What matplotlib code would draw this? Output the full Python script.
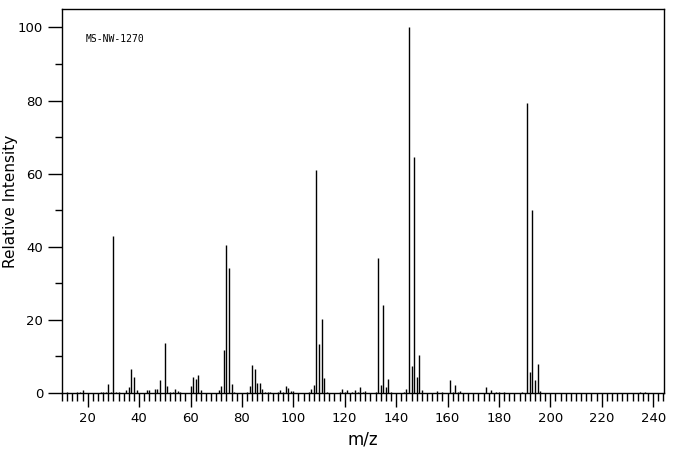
import numpy as np
import matplotlib
matplotlib.use("Agg")
import matplotlib.pyplot as plt
from matplotlib.ticker import MultipleLocator

# peak list (m/z, relative intensity)
mz = [12, 16, 17, 18, 25, 26, 27, 28, 29, 30, 31, 32, 35, 36, 37, 38, 39, 43, 44,
      46, 47, 48, 50, 51, 52, 53, 54, 55, 56, 60, 61, 62, 63, 64, 71, 72, 73, 74,
      75, 76, 77, 82, 83, 84, 85, 86, 87, 88, 89, 90, 91, 94, 95, 96, 97, 98, 99,
      100, 106, 107, 108, 109, 110, 111, 112, 113, 118, 119, 120, 121, 123, 124,
      125, 126, 127, 128, 132, 133, 134, 135, 136, 137, 138, 143, 144, 145, 146,
      147, 148, 149, 150, 156, 158, 161, 162, 163, 164, 165, 175, 177, 179, 180,
      182, 189, 191, 192, 193, 194, 195, 196, 235, 237]
intensity = [0.4, 0.4, 0.4, 0.9, 0.4, 0.4, 0.4, 2.5, 0.4, 43.0, 0.4, 0.4, 0.7, 1.6,
             6.6, 4.3, 0.7, 0.7, 0.7, 1.0, 1.1, 3.5, 13.8, 2.0, 0.4, 0.4, 1.0, 0.6,
             0.4, 2.0, 4.3, 3.7, 4.8, 0.7, 0.7, 1.8, 11.8, 40.5, 34.2, 2.5, 0.4, 0.4,
             1.8, 7.7, 6.6, 2.8, 2.6, 1.0, 0.4, 0.4, 0.4, 0.4, 0.7, 0.4, 2.0, 1.3,
             0.6, 0.6, 0.4, 1.2, 2.3, 61.0, 13.5, 20.3, 4.2, 0.4, 0.4, 1.2, 0.4, 0.9,
             0.4, 0.9, 0.4, 1.5, 0.4, 0.6, 0.4, 37.0, 2.3, 24.0, 1.5, 3.9, 0.4, 0.4,
             1.2, 100.0, 7.5, 64.6, 4.5, 10.5, 0.9, 0.6, 0.4, 3.6, 0.4, 2.3, 0.4,
             0.6, 1.5, 0.9, 0.4, 0.4, 0.4, 0.4, 79.3, 5.8, 50.1, 3.6, 8.0, 0.6, 0.4,
             0.4]
x_ticks = list(range(20, 241, 20))
y_ticks = list(range(0, 101, 20))

fig = plt.figure(figsize=(6.76, 4.55), dpi=100)
ax = fig.add_axes([0.0917, 0.1363, 0.8905, 0.8437])

ax.vlines(mz, 0, intensity, colors="black", linewidth=1.0)

ax.set_xlim(10, 244.2)
ax.set_ylim(0, 105)
ax.set_xticks(x_ticks)
ax.set_yticks(y_ticks)
ax.xaxis.set_minor_locator(MultipleLocator(2))
ax.yaxis.set_minor_locator(MultipleLocator(10))
ax.tick_params(which="major", direction="out", length=10, width=1, labelsize=9.5, colors="black")
ax.tick_params(which="minor", direction="out", length=6, width=1)
ax.tick_params(axis="y", which="minor", length=5)
for s in ax.spines.values():
    s.set_linewidth(1)
    s.set_color("black")

ax.set_xlabel("m/z", fontsize=12)
ax.set_ylabel("Relative Intensity", fontsize=11, labelpad=0)
ax.text(0.04, 0.915, "MS-NW-1270", transform=ax.transAxes, fontsize=7,
        family="DejaVu Sans Mono")

fig.savefig("out.png", dpi=100)
